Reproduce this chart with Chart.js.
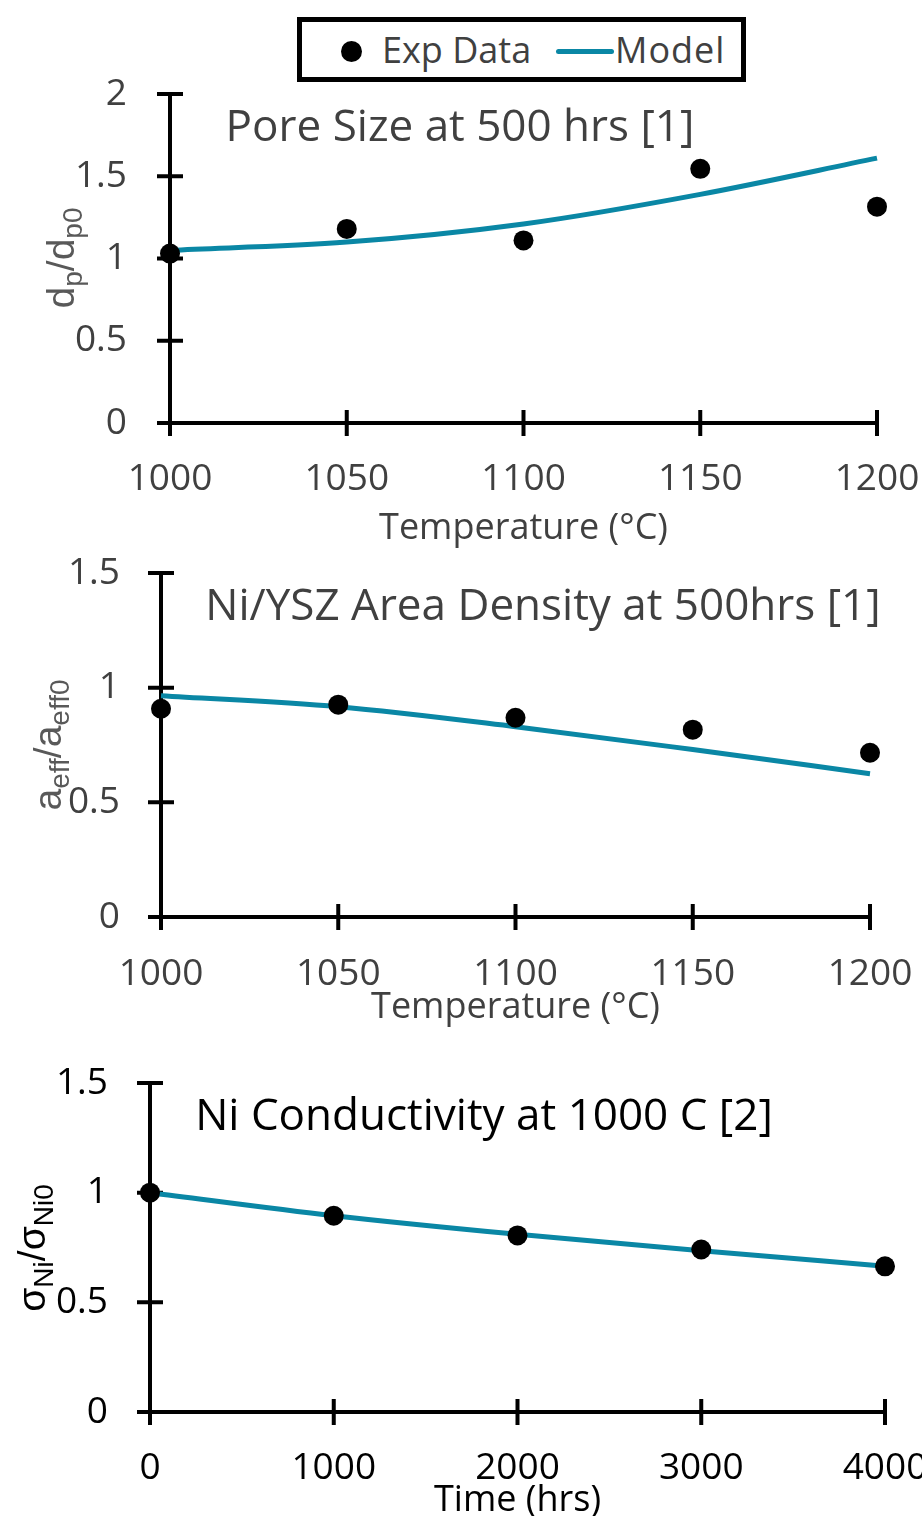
<!DOCTYPE html>
<html>
<head>
<meta charset="utf-8">
<script src="https://cdn.jsdelivr.net/npm/chart.js@4/dist/chart.umd.min.js"></script>
<style>
  body { margin: 0; width: 922px; height: 1516px; overflow: hidden; background: #fff; position: relative; }
  canvas { position: absolute; left: 0; }
  #legend { position: absolute; left: 297px; top: 17px; width: 449px; height: 65px; box-sizing: border-box;
            border: 5px solid #000; background: #fff; font-family: "Open Sans", sans-serif; font-size: 36px; color: #404040; }
  #legend span { position: absolute; line-height: 1; }
  #legend .dot { left: 39px; top: 19px; width: 21px; height: 21px; border-radius: 50%; background: #000; }
  #legend .line { left: 254px; top: 27px; width: 58px; height: 5px; border-radius: 3px; background: #0A87A5; }
</style>
</head>
<body>
<canvas id="c1" width="922" height="550" style="top:0px"></canvas>
<canvas id="c2" width="922" height="479" style="top:550px"></canvas>
<canvas id="c3" width="922" height="493" style="top:1029px"></canvas>
<div id="legend">
  <span class="dot"></span><span style="left:80px;top:10px">Exp Data</span>
  <span class="line"></span><span style="left:313px;top:10px;letter-spacing:1px">Model</span>
</div>
<script>
// values
const tempC = [1000, 1050, 1100, 1150, 1200];
const poreExp = [1.03, 1.18, 1.11, 1.545, 1.315];
const poreModel = [1.05, 1.10, 1.21, 1.39, 1.61];
const areaExp = [0.908, 0.926, 0.869, 0.817, 0.716];
const areaModel = [0.965, 0.917, 0.83, 0.73, 0.625];
const timeHrs = [0, 1000, 2000, 3000, 4000];
const condExp = [1.0, 0.895, 0.805, 0.741, 0.664];
const condModel = [1.0, 0.895, 0.81, 0.735, 0.665];
const poreTicks = [0, 0.5, 1, 1.5, 2];
const fracTicks = [0, 0.5, 1, 1.5];

const TEAL = '#0A87A5';
const FONT = '"Open Sans", sans-serif';

// cross shaped tick marks like the original
const crossTicks = {
  id: 'crossTicks',
  beforeDatasetsDraw(chart) {
    const {ctx, chartArea: a, scales: {x, y}} = chart;
    ctx.save();
    ctx.strokeStyle = '#000';
    ctx.lineWidth = 4;
    ctx.beginPath();
    x.ticks.forEach(t => {
      let px = x.getPixelForValue(t.value);
      ctx.moveTo(px, a.bottom - 13);
      ctx.lineTo(px, a.bottom + 13);
    });
    y.ticks.forEach(t => {
      let py = y.getPixelForValue(t.value);
      ctx.moveTo(a.left - 13, py);
      ctx.lineTo(a.left + 13, py);
    });
    ctx.stroke();
    ctx.restore();
  }
};

// in-plot title and y title with subscripts
function panelText(cfg) {
  return {
    id: 'panelText',
    afterDraw(chart) {
      const ctx = chart.ctx;
      ctx.save();
      ctx.font = `44px ${FONT}`;
      ctx.fillStyle = cfg.color;
      ctx.textAlign = 'center';
      ctx.textBaseline = 'middle';
      ctx.fillText(cfg.title, cfg.titleX, cfg.titleY);

      ctx.translate(cfg.yX, cfg.yY);
      ctx.rotate(-Math.PI / 2);
      ctx.textAlign = 'left';
      ctx.textBaseline = 'alphabetic';
      ctx.fillStyle = cfg.yColor;
      const big = '39px "Liberation Sans", Arial, sans-serif';
      const small = '28px "Liberation Sans", Arial, sans-serif';
      let total = 0;
      cfg.yParts.forEach(p => { ctx.font = p.sub ? small : big; total += ctx.measureText(p.t).width; });
      let pos = -total / 2;
      cfg.yParts.forEach(p => {
        ctx.font = p.sub ? small : big;
        ctx.fillText(p.t, pos, p.sub ? 8 : 0);
        pos += ctx.measureText(p.t).width;
      });
      ctx.restore();
    }
  };
}

function panel(id, cfg) {
  const xs = cfg.xs;
  return new Chart(document.getElementById(id), {
    type: 'scatter',
    data: {
      datasets: [
        {
          label: 'Exp Data',
          data: xs.map((x, i) => ({x: x, y: cfg.exp[i]})),
          pointRadius: 10,
          pointBackgroundColor: '#000',
          pointBorderWidth: 0,
          showLine: false,
          clip: false,
          order: 0
        },
        {
          label: 'Model',
          data: xs.map((x, i) => ({x: x, y: cfg.model[i]})),
          showLine: true,
          borderColor: TEAL,
          borderWidth: 5,
          pointRadius: 0,
          cubicInterpolationMode: 'monotone',
          clip: false,
          order: 1
        }
      ]
    },
    options: {
      responsive: false,
      animation: false,
      events: [],
      layout: {padding: {left: 0, right: 922 - cfg.right, top: cfg.top, bottom: 0}},
      plugins: {legend: {display: false}, tooltip: {enabled: false}},
      scales: {
        x: {
          type: 'linear',
          min: xs[0],
          max: xs[xs.length - 1],
          grid: {display: false, drawTicks: false},
          border: {display: true, color: '#000', width: 4},
          ticks: {
            stepSize: xs[1] - xs[0],
            padding: cfg.xPad,
            color: cfg.color,
            font: {family: FONT, size: 37},
            maxRotation: 0,
            autoSkip: false,
            callback: v => String(v)
          },
          title: {display: true, text: cfg.xTitle, color: cfg.color, font: {family: FONT, size: 36}, padding: 0},
          afterFit(s) { s.height = cfg.xH; s.paddingLeft = 0; s.paddingRight = 0; }
        },
        y: {
          type: 'linear',
          min: cfg.yTicks[0],
          max: cfg.yTicks[cfg.yTicks.length - 1],
          grid: {display: false, drawTicks: false},
          border: {display: true, color: '#000', width: 4},
          ticks: {
            stepSize: cfg.yTicks[1] - cfg.yTicks[0],
            padding: cfg.yPad,
            color: cfg.color,
            font: {family: FONT, size: 37},
            callback: v => String(v)
          },
          afterFit(s) { s.width = cfg.left; s.paddingTop = 0; s.paddingBottom = 0; }
        }
      }
    },
    plugins: [crossTicks, panelText(cfg)]
  });
}

panel('c1', {
  xs: tempC, exp: poreExp, model: poreModel, yTicks: poreTicks,
  left: 170, right: 877, top: 94, xH: 127, xPad: 34, yPad: 43,
  color: '#404040', xTitle: 'Temperature (°C)',
  title: 'Pore Size at 500 hrs [1]', titleX: 460, titleY: 128,
  yX: 74, yY: 258, yColor: '#595959',
  yParts: [{t: 'd'}, {t: 'p', sub: true}, {t: '/d'}, {t: 'p0', sub: true}]
});

panel('c2', {
  xs: tempC, exp: areaExp, model: areaModel, yTicks: fracTicks,
  left: 161, right: 870, top: 23, xH: 112, xPad: 35, yPad: 41,
  color: '#404040', xTitle: 'Temperature (°C)',
  title: 'Ni/YSZ Area Density at 500hrs [1]', titleX: 543, titleY: 607 - 550,
  yX: 61, yY: 195, yColor: '#595959',
  yParts: [{t: 'a'}, {t: 'eff', sub: true}, {t: '/a'}, {t: 'eff0', sub: true}]
});

panel('c3', {
  xs: timeHrs, exp: condExp, model: condModel, yTicks: fracTicks,
  left: 150, right: 885, top: 54, xH: 110, xPad: 34, yPad: 42,
  color: '#000', xTitle: 'Time (hrs)',
  title: 'Ni Conductivity at 1000 C [2]', titleX: 484, titleY: 1117 - 1029,
  yX: 45, yY: 219, yColor: '#000',
  yParts: [{t: 'σ'}, {t: 'Ni', sub: true}, {t: '/σ'}, {t: 'Ni0', sub: true}]
});
</script>
</body>
</html>
